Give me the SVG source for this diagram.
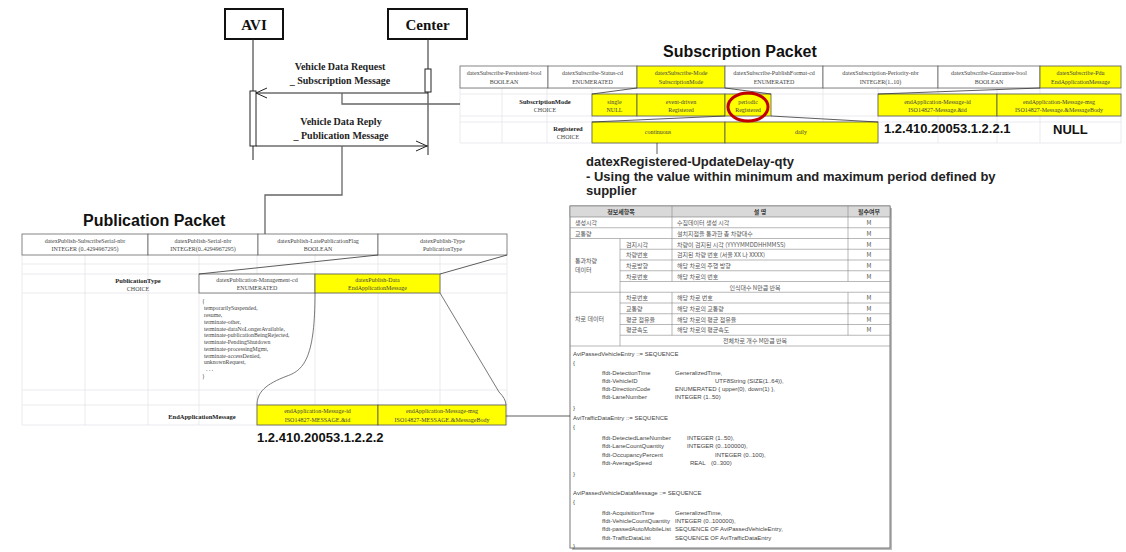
<svg xmlns="http://www.w3.org/2000/svg" width="1126" height="552" viewBox="0 0 1126 552">
<style>
.bg{fill:#fff}
.t{font-family:"Liberation Serif",serif;font-size:6px;fill:#444;text-anchor:middle}
.tb{font-family:"Liberation Serif",serif;font-size:6.5px;fill:#222;font-weight:bold;text-anchor:middle}
.tl{font-family:"Liberation Serif",serif;font-size:5.8px;fill:#444}
.cell{fill:#fff;stroke:#666;stroke-width:0.8}
.ycell{fill:#ffff00;stroke:#555;stroke-width:0.8}
.grid{stroke:#e2e2ea;stroke-width:0.7;fill:none}
.exp{stroke:#333;stroke-width:0.8;fill:none}
.title{font-family:"Liberation Sans",sans-serif;font-size:16px;font-weight:bold;fill:#111}
.big{font-family:"Liberation Sans",sans-serif;font-size:13px;font-weight:bold;fill:#111}
.desc{font-family:"Liberation Sans",sans-serif;font-size:13px;font-weight:bold;fill:#222}
.actor{fill:#fff;stroke:#111;stroke-width:2}
.actt{font-family:"Liberation Serif",serif;font-size:15px;font-weight:bold;fill:#111;text-anchor:middle}
.msg{font-family:"Liberation Serif",serif;font-size:10px;font-weight:bold;fill:#222;text-anchor:middle}
.life{stroke:#222;stroke-width:1;fill:none}
.act{fill:#fff;stroke:#222;stroke-width:1}
.conn{stroke:#666;stroke-width:1.3;fill:none}
.kr{font-family:"Noto Sans CJK KR",sans-serif;font-size:6px;fill:#555}
.krc{font-family:"Noto Sans CJK KR",sans-serif;font-size:6px;fill:#555;text-anchor:middle}
.krh{font-family:"Noto Sans CJK KR",sans-serif;font-size:6px;fill:#333;font-weight:bold;text-anchor:middle}
.kl{stroke:#888;stroke-width:0.6;fill:none}
.code{font-family:"Liberation Sans",sans-serif;font-size:6px;fill:#444}
</style>
<rect class="bg" x="0" y="0" width="1126" height="552"/>

<!-- Sequence diagram -->
<g id="avi">
  <rect class="actor" x="225" y="9" width="58" height="30"/>
  <text class="actt" x="254" y="30">AVI</text>
  <line class="life" x1="253" y1="39" x2="253" y2="160"/>
  <rect class="act" x="250" y="91" width="6" height="55"/>
</g>
<g id="center">
  <rect class="actor" x="388" y="9" width="79" height="30"/>
  <text class="actt" x="427.5" y="30">Center</text>
  <line class="life" x1="428" y1="39" x2="428" y2="155"/>
  <rect class="act" x="425" y="69" width="6" height="23"/>
</g>
<g id="messages">
  <text class="msg" x="340" y="70">Vehicle Data Request</text>
  <text class="msg" x="340" y="84">_ Subscription Message</text>
  <text class="msg" x="341" y="125">Vehicle Data Reply</text>
  <text class="msg" x="341" y="139">_ Publication Message</text>
</g>

<!-- Subscription packet -->
<g id="subscription-packet">
  <text class="title" x="663" y="57">Subscription Packet</text>
  <g class="grid">
    <line x1="460" y1="88" x2="1121" y2="88"/>
    <line x1="460" y1="94" x2="1121" y2="94"/>
    <line x1="460" y1="116" x2="1121" y2="116"/>
    <line x1="460" y1="122" x2="1121" y2="122"/>
    <line x1="460" y1="143" x2="1121" y2="143"/>
    <line x1="460" y1="88" x2="460" y2="143"/>
    <line x1="502" y1="88" x2="502" y2="143"/>
    <line x1="547" y1="88" x2="547" y2="143"/>
    <line x1="592" y1="88" x2="592" y2="143"/>
    <line x1="823" y1="88" x2="823" y2="143"/>
    <line x1="878" y1="88" x2="878" y2="143"/>
    <line x1="938" y1="88" x2="938" y2="143"/>
    <line x1="997" y1="88" x2="997" y2="143"/>
    <line x1="1040" y1="88" x2="1040" y2="143"/>
    <line x1="1121" y1="88" x2="1121" y2="143"/>
  </g>
  <rect class="cell" x="460" y="66" width="88" height="22"/>
  <rect class="cell" x="548" y="66" width="89" height="22"/>
  <rect class="ycell" x="637" y="66" width="88" height="22"/>
  <rect class="cell" x="725" y="66" width="98" height="22"/>
  <rect class="cell" x="823" y="66" width="115" height="22"/>
  <rect class="cell" x="938" y="66" width="102" height="22"/>
  <rect class="ycell" x="1040" y="66" width="81" height="22"/>
  <text class="t" x="504" y="75">datexSubscribe-Persistent-bool</text>
  <text class="t" x="504" y="84">BOOLEAN</text>
  <text class="t" x="592.5" y="75">datexSubscribe-Status-cd</text>
  <text class="t" x="592.5" y="84">ENUMERATED</text>
  <text class="t" x="681" y="75">datexSubscribe-Mode</text>
  <text class="t" x="681" y="84">SubscriptionMode</text>
  <text class="t" x="774" y="75">datexSubscribe-PublishFormat-cd</text>
  <text class="t" x="774" y="84">ENUMERATED</text>
  <text class="t" x="880.5" y="75">datexSubscription-Periority-nbr</text>
  <text class="t" x="880.5" y="84">INTEGER(1..10)</text>
  <text class="t" x="989" y="75">datexSubscribe-Guarantee-bool</text>
  <text class="t" x="989" y="84">BOOLEAN</text>
  <text class="t" x="1080.5" y="75">datexSubscribe-Pdu</text>
  <text class="t" x="1080.5" y="84">EndApplicationMessage</text>

  <text class="tb" x="545" y="104">SubscriptionMode</text>
  <text class="t" x="545" y="112">CHOICE</text>
  <rect class="ycell" x="592" y="94" width="45" height="22"/>
  <rect class="ycell" x="637" y="94" width="88" height="22"/>
  <rect class="ycell" x="725" y="94" width="46" height="22"/>
  <rect class="ycell" x="878" y="94" width="119" height="22"/>
  <rect class="ycell" x="997" y="94" width="124" height="22"/>
  <text class="t" x="614.5" y="104">single</text>
  <text class="t" x="614.5" y="112">NULL</text>
  <text class="t" x="681" y="104">event-driven</text>
  <text class="t" x="681" y="112">Registered</text>
  <text class="t" x="748" y="104">periodic</text>
  <text class="t" x="748" y="112">Registered</text>
  <text class="t" x="937.5" y="104">endApplication-Message-id</text>
  <text class="t" x="937.5" y="112">ISO14827-Message.&amp;id</text>
  <text class="t" x="1059" y="104">endApplication-Message-msg</text>
  <text class="t" x="1059" y="112">ISO14827-Message.&amp;MessageBody</text>

  <text class="tb" x="568" y="131">Registered</text>
  <text class="t" x="568" y="139">CHOICE</text>
  <rect class="ycell" x="592" y="122" width="133" height="21"/>
  <rect class="ycell" x="725" y="122" width="153" height="21"/>
  <text class="t" x="658" y="134">continuous</text>
  <text class="t" x="801" y="134">daily</text>
  <text class="big" x="884" y="133">1.2.410.20053.1.2.2.1</text>
  <text class="big" x="1053" y="134">NULL</text>

  <g class="exp">
    <line x1="637" y1="88" x2="592" y2="94"/>
    <line x1="725" y1="88" x2="771" y2="94"/>
    <line x1="1040" y1="88" x2="878" y2="94"/>
    <line x1="725" y1="116" x2="592" y2="122"/>
    <line x1="771" y1="116" x2="878" y2="122"/>
  </g>
  <ellipse cx="748" cy="107" rx="20" ry="14" fill="none" stroke="#c00000" stroke-width="3"/>
</g>

<g id="update-delay-note">
  <text class="desc" x="586" y="166">datexRegistered-UpdateDelay-qty</text>
  <text class="desc" x="586" y="181">- Using the value within minimum and maximum period defined by</text>
  <text class="desc" x="586" y="195">supplier</text>
</g>

<!-- Publication packet -->
<g id="publication-packet">
  <text class="title" x="83" y="226">Publication Packet</text>
  <g class="grid">
    <line x1="22" y1="264" x2="507" y2="264"/>
    <line x1="22" y1="274" x2="507" y2="274"/>
    <line x1="22" y1="293" x2="507" y2="293"/>
    <line x1="22" y1="390" x2="507" y2="390"/>
    <line x1="22" y1="405" x2="507" y2="405"/>
    <line x1="22" y1="425" x2="507" y2="425"/>
    <line x1="22" y1="255" x2="22" y2="425"/>
    <line x1="85" y1="255" x2="85" y2="425"/>
    <line x1="148" y1="255" x2="148" y2="425"/>
    <line x1="199" y1="255" x2="199" y2="425"/>
    <line x1="257" y1="255" x2="257" y2="293"/>
    <line x1="257" y1="390" x2="257" y2="425"/>
    <line x1="315" y1="255" x2="315" y2="425"/>
    <line x1="378" y1="255" x2="378" y2="425"/>
    <line x1="440" y1="255" x2="440" y2="425"/>
    <line x1="507" y1="255" x2="507" y2="425"/>
  </g>
  <rect class="cell" x="22" y="234" width="126" height="21"/>
  <rect class="cell" x="148" y="234" width="110" height="21"/>
  <rect class="cell" x="258" y="234" width="120" height="21"/>
  <rect class="cell" x="378" y="234" width="129" height="21"/>
  <text class="t" x="85" y="243">datexPublish-SubscribeSerial-nbr</text>
  <text class="t" x="85" y="251">INTEGER (0..4294967295)</text>
  <text class="t" x="203" y="243">datexPublish-Serial-nbr</text>
  <text class="t" x="203" y="251">INTEGER(0..4294967295)</text>
  <text class="t" x="318" y="243">datexPublish-LatePublicationFlag</text>
  <text class="t" x="318" y="251">BOOLEAN</text>
  <text class="t" x="442.5" y="243">datexPublish-Type</text>
  <text class="t" x="442.5" y="251">PublicationType</text>

  <text class="tb" x="138" y="283">PublicationType</text>
  <text class="t" x="138" y="291">CHOICE</text>
  <rect class="cell" x="199" y="274" width="116" height="19"/>
  <rect class="ycell" x="315" y="274" width="125" height="19"/>
  <text class="t" x="257" y="282">datexPublication-Management-cd</text>
  <text class="t" x="257" y="290">ENUMERATED</text>
  <text class="t" x="377.5" y="282">datexPublish-Data</text>
  <text class="t" x="377.5" y="290">EndApplicationMessage</text>

  <g class="tl">
    <text x="202" y="303">{</text>
    <text x="204" y="310">temporarilySuspended,</text>
    <text x="204" y="317">resume,</text>
    <text x="204" y="323.5">terminate-other,</text>
    <text x="204" y="330.5">terminate-dataNoLongerAvailable,</text>
    <text x="204" y="337">terminate-publicationBeingRejected,</text>
    <text x="204" y="344">terminate-PendingShutdown</text>
    <text x="204" y="350.5">terminate-processingMgmt,</text>
    <text x="204" y="357.5">terminate-accessDenied,</text>
    <text x="204" y="364">unknownRequest,</text>
    <text x="206" y="371">. . .</text>
    <text x="202" y="378">}</text>
  </g>

  <text class="tb" x="202" y="419">EndApplicationMessage</text>
  <rect class="ycell" x="257" y="405" width="121" height="20"/>
  <rect class="ycell" x="378" y="405" width="128" height="20"/>
  <text class="t" x="317.5" y="413">endApplication-Message-id</text>
  <text class="t" x="317.5" y="422">ISO14827-MESSAGE.&amp;id</text>
  <text class="t" x="442" y="413">endApplication-Message-msg</text>
  <text class="t" x="442" y="422">ISO14827-MESSAGE.&amp;MessageBody</text>
  <text class="big" x="257" y="442">1.2.410.20053.1.2.2.2</text>

  <g class="exp">
    <line x1="378" y1="255" x2="199" y2="274"/>
    <line x1="507" y1="255" x2="440" y2="274"/>
    <path d="M315,293 C315,355 305,370 287,376 C266,384 257,392 257,405" stroke="#555"/>
    <path d="M440,293 L499,392 Q506,399 506,405" stroke="#555"/>
  </g>
</g>

<!-- Korean spec table -->
<g id="ksdata-table">
  <rect x="572" y="208" width="320" height="342" fill="#bbb"/>
  <rect x="570" y="206" width="320" height="342" fill="#fff" stroke="#777" stroke-width="1"/>
  <rect x="570" y="206" width="320" height="11" fill="#d9d9d9" stroke="#777" stroke-width="0.6"/>
  <text class="krh" x="621" y="214">정보세항목</text>
  <text class="krh" x="760" y="214">설 명</text>
  <text class="krh" x="869" y="214">필수여부</text>
  <g class="kl">
    <line x1="672" y1="206" x2="672" y2="281.5"/>
    <line x1="672" y1="292.25" x2="672" y2="335.25"/>
    <line x1="848" y1="206" x2="848" y2="281.5"/>
    <line x1="848" y1="292.25" x2="848" y2="335.25"/>
    <line x1="620" y1="238.5" x2="620" y2="346"/>
    <line x1="570" y1="227.75" x2="890" y2="227.75"/>
    <line x1="570" y1="238.5" x2="890" y2="238.5"/>
    <line x1="620" y1="249.25" x2="890" y2="249.25"/>
    <line x1="620" y1="260" x2="890" y2="260"/>
    <line x1="620" y1="270.75" x2="890" y2="270.75"/>
    <line x1="620" y1="281.5" x2="890" y2="281.5"/>
    <line x1="570" y1="292.25" x2="890" y2="292.25"/>
    <line x1="620" y1="303" x2="890" y2="303"/>
    <line x1="620" y1="313.75" x2="890" y2="313.75"/>
    <line x1="620" y1="324.5" x2="890" y2="324.5"/>
    <line x1="620" y1="335.25" x2="890" y2="335.25"/>
    <line x1="570" y1="346" x2="890" y2="346"/>
  </g>
  <text class="kr" x="575" y="225">생성시각</text>
  <text class="kr" x="677" y="225">수집데이터 생성 시각</text>
  <text class="krc" x="869" y="225">M</text>
  <text class="kr" x="575" y="235.5">교통량</text>
  <text class="kr" x="677" y="235.5">설치지점을 통과한 총 차량대수</text>
  <text class="krc" x="869" y="235.5">M</text>
  <text class="kr" x="575" y="263">통과차량</text>
  <text class="kr" x="575" y="272">데이터</text>
  <text class="kr" x="626" y="246.5">검지시각</text>
  <text class="kr" x="677" y="246.5">차량이 검지된 시각 (YYYYMMDDHHMMSS)</text>
  <text class="krc" x="869" y="246.5">M</text>
  <text class="kr" x="626" y="257">차량번호</text>
  <text class="kr" x="677" y="257">검지된 차량 번호 (서울 XX 나 XXXX)</text>
  <text class="krc" x="869" y="257">M</text>
  <text class="kr" x="626" y="268">차로방향</text>
  <text class="kr" x="677" y="268">해당 차로의 주행 방향</text>
  <text class="krc" x="869" y="268">M</text>
  <text class="kr" x="626" y="278.5">차로번호</text>
  <text class="kr" x="677" y="278.5">해당 차로의 번호</text>
  <text class="krc" x="869" y="278.5">M</text>
  <text class="krc" x="755" y="289.5">인식대수 N만큼 반복</text>
  <text class="kr" x="575" y="321">차로 데이터</text>
  <text class="kr" x="626" y="300">차로번호</text>
  <text class="kr" x="677" y="300">해당 차로 번호</text>
  <text class="krc" x="869" y="300">M</text>
  <text class="kr" x="626" y="311">교통량</text>
  <text class="kr" x="677" y="311">해당 차로의 교통량</text>
  <text class="krc" x="869" y="311">M</text>
  <text class="kr" x="626" y="321.5">평균 점유율</text>
  <text class="kr" x="677" y="321.5">해당 차로의 평균 점유율</text>
  <text class="krc" x="869" y="321.5">M</text>
  <text class="kr" x="626" y="332">평균속도</text>
  <text class="kr" x="677" y="332">해당 차로의 평균속도</text>
  <text class="krc" x="869" y="332">M</text>
  <text class="krc" x="755" y="343">전체차로 개수 M만큼 반복</text>

  <g class="code">
    <text x="573" y="356">AviPassedVehicleEntry ::= SEQUENCE</text>
    <text x="573" y="365">{</text>
    <text x="602" y="375">ffdt-DetectionTime</text><text x="675" y="375">GeneralizedTime,</text>
    <text x="602" y="383">ffdt-VehicleID</text><text x="715" y="383">UTF8String (SIZE(1..64)),</text>
    <text x="602" y="391">ffdt-DirectionCode</text><text x="675" y="391">ENUMERATED { upper(0), down(1) },</text>
    <text x="602" y="399">ffdt-LaneNumber</text><text x="675" y="399">INTEGER (1..50)</text>
    <text x="573" y="410">}</text>
    <text x="573" y="420">AviTrafficDataEntry ::= SEQUENCE</text>
    <text x="573" y="429">{</text>
    <text x="602" y="440">ffdt-DetectedLaneNumber</text><text x="687" y="440">INTEGER (1..50),</text>
    <text x="602" y="448">ffdt-LaneCountQuantity</text><text x="687" y="448">INTEGER (0..100000),</text>
    <text x="602" y="457">ffdt-OccupancyPercent</text><text x="715" y="457">INTEGER (0..100),</text>
    <text x="602" y="465">ffdt-AverageSpeed</text><text x="690" y="465">REAL</text><text x="711" y="465">(0..300)</text>
    <text x="573" y="476">}</text>
    <text x="573" y="495">AviPassedVehicleDataMessage ::= SEQUENCE</text>
    <text x="573" y="504">{</text>
    <text x="602" y="515">ffdt-AcquisitionTime</text><text x="675" y="515">GeneralizedTime,</text>
    <text x="602" y="523">ffdt-VehicleCountQuantity</text><text x="675" y="523">INTEGER (0..100000),</text>
    <text x="602" y="531">ffdt-passedAutoMobileList</text><text x="675" y="531">SEQUENCE OF AviPassedVehicleEntry,</text>
    <text x="602" y="540">ffdt-TrafficDataList</text><text x="675" y="540">SEQUENCE OF AviTrafficDataEntry</text>
    <text x="573" y="548">}</text>
  </g>
</g>

<!-- Connectors -->
<g id="connectors">
  <line class="life" x1="428" y1="93" x2="256" y2="93"/>
  <polyline class="life" points="267,88 256,93 267,98"/>
  <line class="life" x1="256" y1="146" x2="428" y2="146"/>
  <polyline class="life" points="416,141 427,146 416,151"/>
  <polyline class="conn" points="342,93 342,104 460,104"/>
  <polyline class="conn" points="342,146 342,195 265,195 265,234"/>
  <line class="exp" x1="657" y1="143" x2="657" y2="154"/>
  <line class="exp" x1="506" y1="416" x2="570" y2="416"/>
</g>
</svg>
